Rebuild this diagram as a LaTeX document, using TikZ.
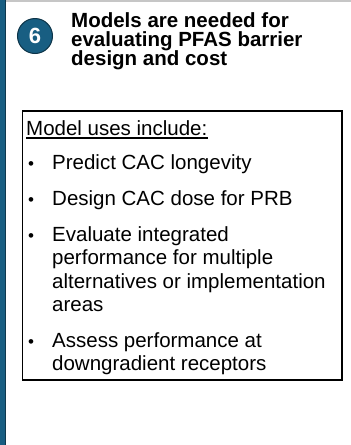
\documentclass[tikz,border=0pt]{standalone}
\usepackage{fontspec}
\setmainfont{Liberation Sans}
\definecolor{bluscuro}{RGB}{24,94,130}
\begin{document}
\begin{tikzpicture}[x=1pt,y=-1pt,
    titolo/.style={anchor=base west,inner sep=0pt,font=\fontsize{20.5}{24}\selectfont\bfseries},
    voce/.style={anchor=base west,inner sep=0pt,font=\fontsize{20.5}{24}\selectfont},
    punto/.style={anchor=base west,inner sep=0pt,font=\fontsize{17}{20}\selectfont}]
        %sfondo
        \useasboundingbox[fill=white](0,0) rectangle (351,445);
        %barra laterale e bordo alto
        \fill[bluscuro](0,0) rectangle (5.5,445);
        \draw[bluscuro!60!black,line width=0.8pt](5.5,0)--(5.5,445);
        \draw[gray!45,line width=1.5pt](6,0.75)--(351,0.75);
        %numero
        \node[circle,fill=bluscuro,draw=bluscuro!55!black,line width=1pt,minimum size=35pt,
              inner sep=0pt,text=white,font=\fontsize{22}{22}\selectfont\bfseries](num) at (35,36){6};
        %titolo
        \node[titolo](t1) at (71,27){Models are needed for};
        \node[titolo](t2) at (71,46){evaluating PFAS barrier};
        \node[titolo](t3) at (71,65){design and cost};
        %riquadro
        \draw[line width=1.3pt](22.7,111) rectangle (342,380);
        \node[voce](hdr) at (26,135){Model uses include:};
        \draw[line width=1.5pt]([yshift=-3pt]hdr.base west)--([yshift=-3pt]hdr.base east);
        %elenco
        \node[punto](p1) at (28,169){•};
        \node[voce](u1) at (52,169){Predict CAC longevity};
        \node[punto](p2) at (28,205){•};
        \node[voce](u2) at (52,205){Design CAC dose for PRB};
        \node[punto](p3) at (28,241){•};
        \node[voce](u3a) at (52,241){Evaluate integrated};
        \node[voce](u3b) at (52,264.5){performance for multiple};
        \node[voce](u3c) at (52,288){alternatives or implementation};
        \node[voce](u3d) at (52,311.5){areas};
        \node[punto](p4) at (28,347){•};
        \node[voce](u4a) at (52,347){Assess performance at};
        \node[voce](u4b) at (52,370.5){downgradient receptors};
    \end{tikzpicture}
\end{document}
